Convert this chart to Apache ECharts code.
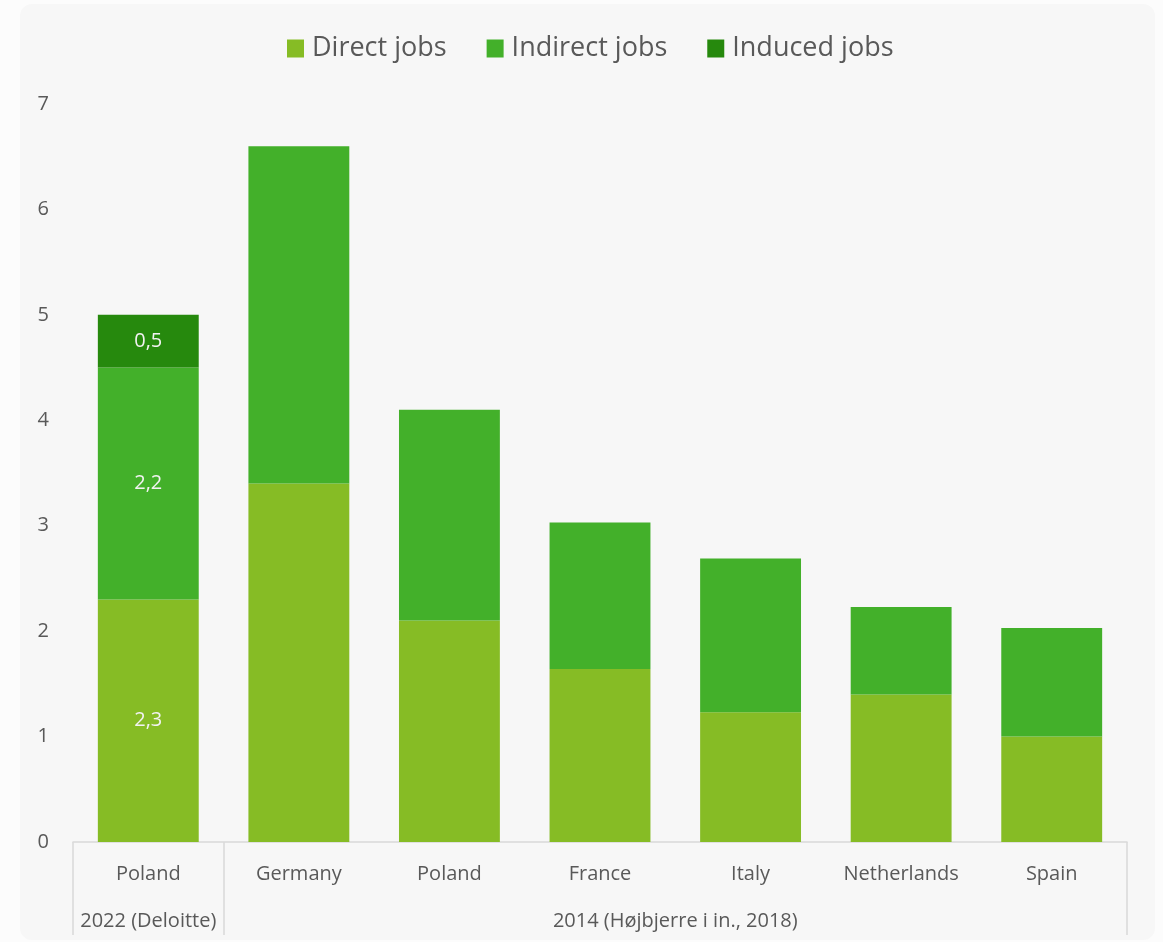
<!DOCTYPE html>
<html>
<head>
<meta charset="utf-8">
<script src="https://cdn.jsdelivr.net/npm/echarts@6/dist/echarts.min.js"></script>
<style>
  html, body { margin: 0; padding: 0; background: #fcfcfc; }
  #chart { width: 1163px; height: 942px; }
</style>
</head>
<body>
<div id="chart"></div>
<script>
// Jobs per MW (or unit) by study and country
const categories = ['Poland', 'Germany', 'Poland', 'France', 'Italy', 'Netherlands', 'Spain'];
const groupNames = ['2022 (Deloitte)', '2014 (Højbjerre i in., 2018)'];
const groupSpans = [1, 6];
const directJobs   = [2.3, 3.4, 2.1, 1.64, 1.23, 1.4, 1.0];
const indirectJobs = [2.2, 3.2, 2.0, 1.39, 1.46, 0.83, 1.03];
const inducedJobs  = [0.5, null, null, null, null, null, null];
const labelledIndex = 0;
const yTicks = [0, 1, 2, 3, 4, 5, 6, 7];

const FONT = '"Open Sans", "Noto Sans", sans-serif';
const TEXT = '#595959';
const LINE = '#d9d9d9';

// group boundaries and centres along the category span
const bounds = [0];
groupSpans.forEach(s => bounds.push(bounds[bounds.length - 1] + s));
const centres = groupSpans.map((s, i) => bounds[i] + s / 2);

const fmt = v => String(v).replace('.', ',');
function withLabel(arr) {
  return arr.map((v, i) => ({
    value: v,
    label: { show: i === labelledIndex && v != null }
  }));
}
const barLabel = {
  position: 'inside',
  color: '#f2f2f2',
  fontFamily: FONT,
  fontSize: 20,
  formatter: p => fmt(p.value)
};

const chart = echarts.init(document.getElementById('chart'), null, { renderer: 'canvas' });
chart.setOption({
  animation: false,
  backgroundColor: 'transparent',
  graphic: [{
    type: 'rect',
    z: -10,
    silent: true,
    shape: { x: 20, y: 4, width: 1135, height: 936, r: 12 },
    style: { fill: '#f7f7f7' }
  }],
  legend: {
    top: 30,
    left: 282,
    itemWidth: 17,
    itemHeight: 18,
    itemGap: 40,
    icon: 'rect',
    textStyle: { color: TEXT, fontSize: 27, fontFamily: FONT, padding: [0, 0, 0, 3] },
    data: ['Direct jobs', 'Indirect jobs', 'Induced jobs']
  },
  grid: { left: 73, right: 36, top: 104, bottom: 100 },
  xAxis: [{
    type: 'category',
    data: categories,
    axisLine: { lineStyle: { color: LINE, width: 1.5 } },
    axisTick: { show: false },
    axisLabel: { color: TEXT, fontSize: 20, fontFamily: FONT, margin: 22, interval: 0 }
  }, {
    type: 'value',
    position: 'bottom',
    min: 0,
    max: bounds[bounds.length - 1],
    axisLine: { show: false },
    splitLine: { show: false },
    axisTick: {
      show: true,
      customValues: bounds,
      length: 93,
      lineStyle: { color: LINE, width: 1.5 }
    },
    axisLabel: {
      customValues: centres,
      color: TEXT,
      fontSize: 20,
      fontFamily: FONT,
      margin: 69,
      formatter: v => groupNames[centres.indexOf(v)] || ''
    }
  }],
  yAxis: {
    type: 'value',
    min: yTicks[0],
    max: yTicks[yTicks.length - 1],
    interval: 1,
    axisLine: { show: false },
    axisTick: { show: false },
    splitLine: { show: false },
    axisLabel: { color: TEXT, fontSize: 20, fontFamily: FONT, margin: 24 }
  },
  series: [{
    name: 'Direct jobs',
    type: 'bar',
    stack: 'jobs',
    barCategoryGap: '33%',
    itemStyle: { color: '#86bc25' },
    label: barLabel,
    data: withLabel(directJobs)
  }, {
    name: 'Indirect jobs',
    type: 'bar',
    stack: 'jobs',
    itemStyle: { color: '#43b02a' },
    label: barLabel,
    data: withLabel(indirectJobs)
  }, {
    name: 'Induced jobs',
    type: 'bar',
    stack: 'jobs',
    itemStyle: { color: '#26890d' },
    label: barLabel,
    data: withLabel(inducedJobs)
  }]
});
</script>
</body>
</html>
